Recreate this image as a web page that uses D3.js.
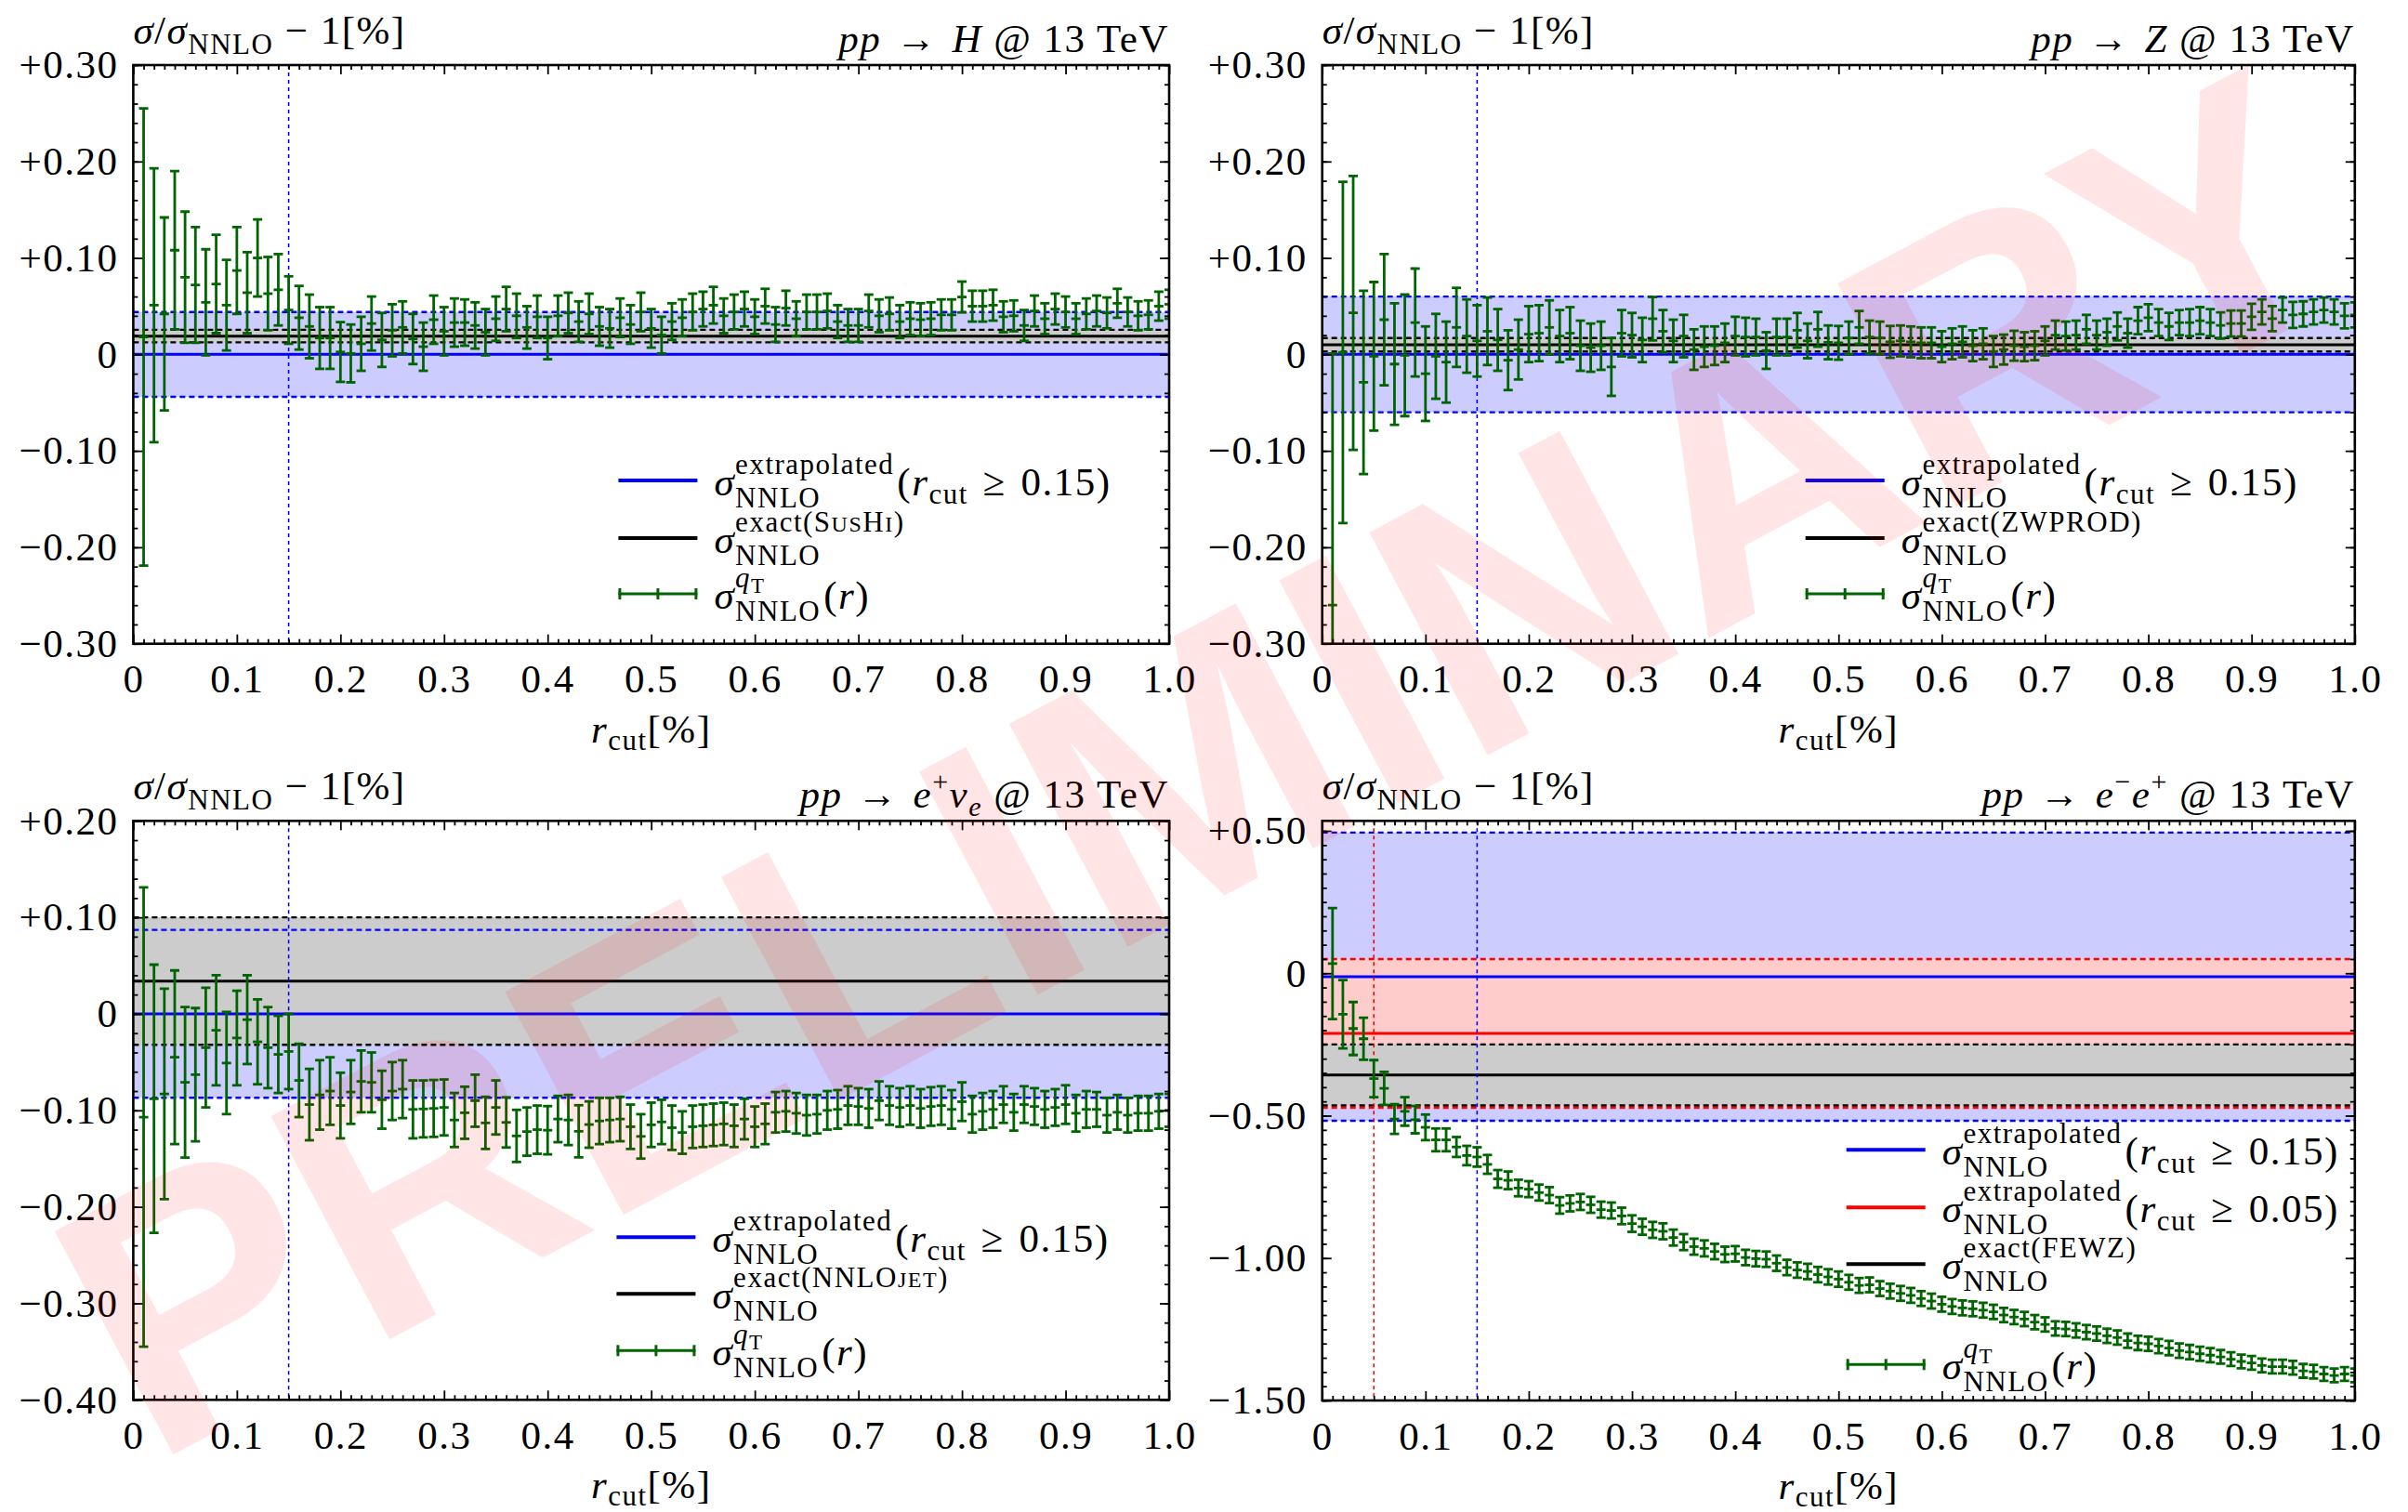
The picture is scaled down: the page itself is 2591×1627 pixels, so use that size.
<!DOCTYPE html>
<html>
<head>
<meta charset="utf-8">
<script src="https://cdn.jsdelivr.net/npm/d3@7"></script>
<style>
body { margin: 0; background: #fff; }
svg text { font-family: "Liberation Serif", "DejaVu Serif", serif; white-space: pre; letter-spacing: 1.5px; }
svg text.watermark { font-family: "Liberation Sans", Arial, sans-serif; letter-spacing: 0; }
</style>
</head>
<body>
<svg id="chart" width="2591" height="1627"></svg>
<script>
// r_cut grid (percent)
var rValues = [0.01,0.02,0.03,0.04,0.05,0.06,0.07,0.08,0.09,0.10,
  0.11,0.12,0.13,0.14,0.15,0.16,0.17,0.18,0.19,0.20,
  0.21,0.22,0.23,0.24,0.25,0.26,0.27,0.28,0.29,0.30,
  0.31,0.32,0.33,0.34,0.35,0.36,0.37,0.38,0.39,0.40,
  0.41,0.42,0.43,0.44,0.45,0.46,0.47,0.48,0.49,0.50,
  0.51,0.52,0.53,0.54,0.55,0.56,0.57,0.58,0.59,0.60,
  0.61,0.62,0.63,0.64,0.65,0.66,0.67,0.68,0.69,0.70,
  0.71,0.72,0.73,0.74,0.75,0.76,0.77,0.78,0.79,0.80,
  0.81,0.82,0.83,0.84,0.85,0.86,0.87,0.88,0.89,0.90,
  0.91,0.92,0.93,0.94,0.95,0.96,0.97,0.98,0.99,1.00];

// pp -> H
var hCenter = [0.018,0.051,0.042,0.108,0.080,0.072,0.054,0.073,0.051,0.087,
  0.064,0.100,0.063,0.067,0.046,0.038,0.029,0.017,0.017,0.0025,
  0.001,0.011,0.032,0.015,0.025,0.028,0.016,0.008,0.036,0.024,
  0.033,0.033,0.030,0.023,0.037,0.047,0.040,0.028,0.039,0.017,
  0.040,0.043,0.034,0.042,0.029,0.027,0.038,0.031,0.044,0.027,
  0.020,0.034,0.038,0.044,0.047,0.051,0.040,0.044,0.047,0.039,
  0.050,0.031,0.048,0.037,0.044,0.044,0.045,0.034,0.030,0.030,
  0.045,0.040,0.042,0.034,0.037,0.036,0.037,0.041,0.041,0.0595,
  0.050,0.050,0.051,0.039,0.040,0.030,0.045,0.037,0.047,0.044,
  0.037,0.042,0.045,0.043,0.053,0.044,0.040,0.041,0.050,0.052];
var hError = [0.237,0.142,0.100,0.082,0.068,0.060,0.055,0.051,0.047,0.045,
  0.042,0.040,0.038,0.037,0.035,0.033,0.033,0.032,0.032,0.031,
  0.030,0.028,0.028,0.028,0.027,0.027,0.026,0.025,0.025,0.025,
  0.025,0.024,0.024,0.024,0.023,0.023,0.023,0.022,0.022,0.022,
  0.021,0.021,0.021,0.021,0.020,0.020,0.020,0.020,0.020,0.020,
  0.019,0.019,0.019,0.019,0.018,0.019,0.018,0.018,0.018,0.018,
  0.018,0.018,0.018,0.018,0.018,0.018,0.018,0.017,0.017,0.017,
  0.017,0.017,0.017,0.017,0.017,0.017,0.017,0.016,0.016,0.016,
  0.016,0.016,0.016,0.016,0.016,0.016,0.016,0.016,0.016,0.016,
  0.016,0.016,0.016,0.016,0.015,0.015,0.015,0.015,0.015,0.015];
var hExtrapolated = [0, 0.044];   // [central, half width]
var hExact = [0.019, 0.0065];

// pp -> Z
var zCenter = [-0.260,0.002,0.043,-0.029,-0.002,0.036,-0.010,-0.001,0.033,-0.020,
  -0.002,-0.008,0.028,0.019,0.014,0.024,0.015,-0.006,0.005,0.021,
  0.022,0.028,0.019,0.022,0.009,0.007,0.009,-0.013,0.022,0.020,
  0.015,0.037,0.024,0.014,0.019,0.005,0.008,0.009,0.012,0.019,
  0.018,0.018,0.004,0.018,0.018,0.025,0.014,0.026,0.0125,0.012,
  0.017,0.028,0.018,0.017,0.013,0.014,0.013,0.012,0.012,0.008,
  0.011,0.013,0.009,0.011,0.003,0.005,0.009,0.008,0.009,0.014,
  0.020,0.019,0.020,0.026,0.020,0.023,0.029,0.022,0.035,0.038,
  0.033,0.029,0.033,0.033,0.035,0.033,0.030,0.032,0.032,0.039,
  0.044,0.037,0.046,0.041,0.042,0.044,0.046,0.044,0.040,0.041];
var zError = [0.261,0.177,0.142,0.095,0.077,0.068,0.063,0.063,0.056,0.049,
  0.044,0.042,0.041,0.038,0.037,0.035,0.032,0.031,0.031,0.029,
  0.029,0.028,0.027,0.027,0.026,0.025,0.025,0.030,0.024,0.023,
  0.023,0.0225,0.022,0.022,0.022,0.021,0.021,0.020,0.020,0.020,
  0.020,0.019,0.019,0.019,0.019,0.018,0.018,0.018,0.0175,0.0175,
  0.017,0.017,0.017,0.017,0.0165,0.016,0.016,0.016,0.016,0.016,
  0.016,0.016,0.016,0.016,0.016,0.0155,0.0155,0.015,0.015,0.015,
  0.015,0.015,0.015,0.015,0.015,0.014,0.0145,0.015,0.014,0.014,
  0.014,0.014,0.013,0.014,0.014,0.014,0.0135,0.0135,0.0135,0.0135,
  0.013,0.013,0.013,0.0135,0.013,0.013,0.013,0.013,0.013,0.013];
var zExtrapolated = [0, 0.060];
var zExact = [0.010, 0.007];

// pp -> e+ nu_e
var wCenter = [-0.107,-0.088,-0.083,-0.045,-0.071,-0.063,-0.035,-0.017,-0.051,-0.025,
  -0.006,-0.029,-0.035,-0.042,-0.039,-0.069,-0.094,-0.084,-0.080,-0.095,
  -0.081,-0.070,-0.071,-0.089,-0.080,-0.078,-0.099,-0.0985,-0.098,-0.097,
  -0.110,-0.1025,-0.090,-0.113,-0.097,-0.1125,-0.1265,-0.122,-0.120,-0.1206,
  -0.109,-0.110,-0.1217,-0.1147,-0.111,-0.110,-0.109,-0.117,-0.127,-0.115,
  -0.112,-0.118,-0.123,-0.117,-0.116,-0.115,-0.114,-0.116,-0.109,-0.117,
  -0.114,-0.102,-0.101,-0.103,-0.105,-0.104,-0.100,-0.099,-0.095,-0.096,
  -0.098,-0.090,-0.095,-0.097,-0.095,-0.098,-0.096,-0.095,-0.099,-0.091,
  -0.104,-0.101,-0.099,-0.094,-0.102,-0.094,-0.096,-0.099,-0.097,-0.094,
  -0.103,-0.099,-0.099,-0.105,-0.102,-0.105,-0.103,-0.103,-0.101,-0.100];
var wError = [0.238,0.139,0.109,0.090,0.078,0.069,0.062,0.057,0.053,0.049,
  0.046,0.044,0.042,0.040,0.039,0.038,0.037,0.036,0.035,0.034,
  0.033,0.032,0.031,0.030,0.030,0.030,0.030,0.0295,0.0295,0.029,
  0.028,0.027,0.027,0.027,0.028,0.026,0.027,0.025,0.025,0.025,
  0.024,0.026,0.027,0.024,0.024,0.023,0.023,0.023,0.023,0.023,
  0.023,0.023,0.022,0.022,0.022,0.022,0.022,0.022,0.021,0.021,
  0.021,0.021,0.021,0.021,0.021,0.020,0.020,0.020,0.020,0.019,
  0.020,0.020,0.020,0.020,0.020,0.020,0.020,0.020,0.020,0.020,
  0.019,0.019,0.019,0.019,0.019,0.019,0.019,0.019,0.019,0.020,
  0.019,0.019,0.018,0.018,0.018,0.018,0.018,0.018,0.018,0.017];
var wExtrapolated = [0, 0.087];
var wExact = [0.034, 0.066];

// pp -> e- e+
var eeCenter = [0.034,-0.144,-0.194,-0.230,-0.370,-0.404,-0.512,-0.485,-0.514,-0.541,
  -0.585,-0.585,-0.610,-0.640,-0.645,-0.671,-0.722,-0.727,-0.754,-0.758,
  -0.770,-0.779,-0.815,-0.808,-0.803,-0.813,-0.830,-0.833,-0.852,-0.879,
  -0.890,-0.901,-0.906,-0.928,-0.944,-0.960,-0.966,-0.977,-0.987,-0.985,
  -0.998,-1.002,-1.004,-1.018,-1.033,-1.042,-1.047,-1.058,-1.066,-1.074,
  -1.085,-1.096,-1.094,-1.107,-1.116,-1.124,-1.131,-1.142,-1.151,-1.162,
  -1.170,-1.175,-1.178,-1.183,-1.189,-1.200,-1.207,-1.214,-1.225,-1.233,
  -1.247,-1.249,-1.254,-1.260,-1.265,-1.273,-1.279,-1.290,-1.298,-1.301,
  -1.309,-1.316,-1.325,-1.330,-1.336,-1.341,-1.347,-1.355,-1.363,-1.368,
  -1.377,-1.381,-1.381,-1.385,-1.396,-1.399,-1.407,-1.412,-1.407,-1.412];
var eeError = [0.195,0.120,0.093,0.074,0.065,0.058,0.052,0.050,0.048,0.045,
  0.040,0.040,0.035,0.034,0.034,0.033,0.031,0.031,0.029,0.028,
  0.028,0.028,0.029,0.028,0.028,0.028,0.028,0.028,0.029,0.029,
  0.028,0.028,0.028,0.028,0.028,0.028,0.028,0.027,0.027,0.027,
  0.027,0.027,0.027,0.027,0.027,0.027,0.027,0.027,0.027,0.027,
  0.026,0.026,0.026,0.026,0.026,0.026,0.026,0.026,0.026,0.026,
  0.026,0.026,0.026,0.026,0.025,0.025,0.025,0.025,0.025,0.025,
  0.025,0.025,0.025,0.025,0.025,0.025,0.025,0.025,0.025,0.025,
  0.025,0.025,0.025,0.025,0.025,0.025,0.024,0.024,0.024,0.024,
  0.024,0.024,0.024,0.024,0.024,0.024,0.024,0.024,0.024,0.024];
var eeExtrapolated15 = [-0.012, 0.506];
var eeExtrapolated05 = [-0.211, 0.261];
var eeExact = [-0.357, 0.107];

// axis ticks
var xTicks = [0,0.1,0.2,0.3,0.4,0.5,0.6,0.7,0.8,0.9,1.0];
var xTickLabels = ["0","0.1","0.2","0.3","0.4","0.5","0.6","0.7","0.8","0.9","1.0"];
var yTicks30 = [0.3,0.2,0.1,0,-0.1,-0.2,-0.3];
var yTickLabels30 = ["+0.30","+0.20","+0.10","0","\u22120.10","\u22120.20","\u22120.30"];
var yTicksW = [0.2,0.1,0,-0.1,-0.2,-0.3,-0.4];
var yTickLabelsW = ["+0.20","+0.10","0","\u22120.10","\u22120.20","\u22120.30","\u22120.40"];
var yTicksEE = [0.5,0,-0.5,-1.0,-1.5];
var yTickLabelsEE = ["+0.50","0","\u22120.50","\u22121.00","\u22121.50"];

var BLUE = "#0000ff", RED = "#ff0000", GREEN = "#006400";
var svg = d3.select("#chart");

// draws a run of text pieces; stack:"sup"/"sub" puts two pieces over each other
function rich(g, x, y, parts, anchor) {
    var grp = g.append("g");
    var cursor = 0, stackX = 0, stackW = 0;
    parts.forEach(function(p) {
        var t = grp.append("text").attr("y", p.dy || 0);
        var segs = Array.isArray(p.t) ? p.t : [[p.t, p.size || 43, p.it]];
        segs.forEach(function(s) {
            t.append("tspan").attr("font-size", s[1]).attr("font-style", s[2] ? "italic" : "normal")
                .attr("dy", s[3] || 0).text(s[0]);
        });
        var startX = p.stack === "sub" ? stackX : cursor;
        t.attr("x", startX + (p.dx || 0));
        var w = t.node().getComputedTextLength() + (p.dx || 0);
        if (p.stack === "sup") { stackX = cursor; stackW = w; }
        else if (p.stack === "sub") { cursor = stackX + Math.max(stackW, w); }
        else cursor += w;
    });
    var shift = anchor === "end" ? -cursor : (anchor === "middle" ? -cursor / 2 : 0);
    grp.attr("transform", "translate(" + (x + shift) + "," + y + ")");
}

function sigmaParts(sup, tail) {
    var parts = [{t: "\u03c3", it: 1}, {t: sup, size: 31, dy: -23, stack: "sup"}, {t: "NNLO", size: 31, dy: 13, stack: "sub"}];
    return parts.concat(tail || []);
}
var rcutTail = function(v) {
    return [{t: "(", dx: 3}, {t: "r", it: 1}, {t: "cut", size: 31, dy: 9}, {t: "\u2004\u2265\u2004" + v + ")"}];
};
var qtSup = [["q", 31, true], ["T", 23, false, 6]];
var rTail = [{t: "(", dx: 3}, {t: "r", it: 1}, {t: ")"}];

var panels = [
  { id: "h", center: hCenter, error: hError, yDomain: [-0.3, 0.3], yTicks: yTicks30, yLabels: yTickLabels30, yMinor: 0.02,
    bands: [{v: hExtrapolated, fill: "#ccccff", color: BLUE}, {v: hExact, fill: "#cccccc", color: "#000"}],
    cuts: [{r: 0.15, color: BLUE}],
    title: [{t: "pp", it: 1}, {t: "\u2004\u2192\u2004"}, {t: "H", it: 1}, {t: " @ 13 TeV"}],
    legend: [{color: BLUE, parts: sigmaParts("extrapolated", rcutTail("0.15"))},
             {color: "#000", parts: sigmaParts([["exact(S", 31], ["US", 24], ["H", 31], ["I", 24], [")", 31]])},
             {color: GREEN, bar: true, parts: sigmaParts(qtSup, rTail)}] },
  { id: "z", center: zCenter, error: zError, yDomain: [-0.3, 0.3], yTicks: yTicks30, yLabels: yTickLabels30, yMinor: 0.02,
    bands: [{v: zExtrapolated, fill: "#ccccff", color: BLUE}, {v: zExact, fill: "#cccccc", color: "#000"}],
    cuts: [{r: 0.15, color: BLUE}],
    title: [{t: "pp", it: 1}, {t: "\u2004\u2192\u2004"}, {t: "Z", it: 1}, {t: " @ 13 TeV"}],
    legend: [{color: BLUE, parts: sigmaParts("extrapolated", rcutTail("0.15"))},
             {color: "#000", parts: sigmaParts("exact(ZWPROD)")},
             {color: GREEN, bar: true, parts: sigmaParts(qtSup, rTail)}] },
  { id: "w", center: wCenter, error: wError, yDomain: [-0.4, 0.2], yTicks: yTicksW, yLabels: yTickLabelsW, yMinor: 0.02,
    bands: [{v: wExtrapolated, fill: "#ccccff", color: BLUE}, {v: wExact, fill: "#cccccc", color: "#000"}],
    cuts: [{r: 0.15, color: BLUE}],
    title: [{t: "pp", it: 1}, {t: "\u2004\u2192\u2004"}, {t: "e", it: 1}, {t: "+", size: 30, dy: -18}, {t: "\u03bd", it: 1}, {t: "e", it: 1, size: 30, dy: 9}, {t: " @ 13 TeV"}],
    legend: [{color: BLUE, parts: sigmaParts("extrapolated", rcutTail("0.15"))},
             {color: "#000", parts: sigmaParts([["exact(NNLO", 31], ["JET", 24], [")", 31]])},
             {color: GREEN, bar: true, parts: sigmaParts(qtSup, rTail)}] },
  { id: "ee", center: eeCenter, error: eeError, yDomain: [-1.5, 0.535], yTicks: yTicksEE, yLabels: yTickLabelsEE, yMinor: 0.05,
    bands: [{v: eeExtrapolated15, fill: "#ccccff", color: BLUE}, {v: eeExtrapolated05, fill: "#ffcccc", color: RED},
            {v: eeExact, fill: "#cccccc", color: "#000"}],
    cuts: [{r: 0.05, color: RED}, {r: 0.15, color: BLUE}],
    title: [{t: "pp", it: 1}, {t: "\u2004\u2192\u2004"}, {t: "e", it: 1}, {t: "\u2212", size: 30, dy: -18}, {t: "e", it: 1}, {t: "+", size: 30, dy: -18}, {t: " @ 13 TeV"}],
    legend: [{color: BLUE, parts: sigmaParts("extrapolated", rcutTail("0.15"))},
             {color: RED, parts: sigmaParts("extrapolated", rcutTail("0.05"))},
             {color: "#000", parts: sigmaParts("exact(FEWZ)")},
             {color: GREEN, bar: true, parts: sigmaParts(qtSup, rTail)}] }
];

// frame boxes and legend placement (pixels)
var frames = [
  {left: 143.4, right: 1258, top: 70, bottom: 692.7, legX: 522, legY: [447, 509, 569]},
  {left: 1422.7, right: 2533.8, top: 70, bottom: 692.7, legX: 520, legY: [447, 509, 569]},
  {left: 143.4, right: 1258, top: 883.3, bottom: 1506.3, legX: 520, legY: [448, 509, 570]},
  {left: 1422.7, right: 2533.8, top: 883.3, bottom: 1507, legX: 564, legY: [354, 416, 477, 585]}
];

function drawPanel(p, f) {
    var x = d3.scaleLinear().domain([0, 1]).range([f.left, f.right]);
    var y = d3.scaleLinear().domain(p.yDomain).range([f.bottom, f.top]);
    var g = svg.append("g");
    var clipId = "clip-" + p.id;
    svg.append("clipPath").attr("id", clipId).append("rect")
        .attr("x", f.left).attr("y", f.top).attr("width", f.right - f.left).attr("height", f.bottom - f.top);
    var inner = g.append("g").attr("clip-path", "url(#" + clipId + ")");

    // bands
    p.bands.forEach(function(b) {
        inner.append("rect").attr("x", f.left).attr("width", f.right - f.left)
            .attr("y", y(b.v[0] + b.v[1])).attr("height", y(b.v[0] - b.v[1]) - y(b.v[0] + b.v[1]))
            .attr("fill", b.fill);
    });
    p.bands.forEach(function(b) {
        [b.v[0] + b.v[1], b.v[0] - b.v[1]].forEach(function(v) {
            inner.append("line").attr("x1", f.left).attr("x2", f.right).attr("y1", y(v)).attr("y2", y(v))
                .attr("stroke", b.color).attr("stroke-width", 2.4).attr("stroke-dasharray", "6,4");
        });
    });
    p.bands.forEach(function(b) {
        inner.append("line").attr("x1", f.left).attr("x2", f.right).attr("y1", y(b.v[0])).attr("y2", y(b.v[0]))
            .attr("stroke", b.color).attr("stroke-width", 3);
    });
    p.cuts.forEach(function(c) {
        inner.append("line").attr("x1", x(c.r)).attr("x2", x(c.r)).attr("y1", f.top).attr("y2", f.bottom)
            .attr("stroke", c.color).attr("stroke-width", 1.6).attr("stroke-dasharray", "4,4");
    });

    // error bars
    var bars = inner.append("g").attr("stroke", GREEN).attr("stroke-width", 2.8);
    rValues.forEach(function(r, i) {
        var cx = x(r), c = p.center[i], e = p.error[i];
        bars.append("line").attr("x1", cx).attr("x2", cx).attr("y1", y(c + e)).attr("y2", y(c - e));
        [c + e, c, c - e].forEach(function(v) {
            bars.append("line").attr("x1", cx - 5).attr("x2", cx + 5).attr("y1", y(v)).attr("y2", y(v));
        });
    });

    // frame
    g.append("rect").attr("x", f.left).attr("y", f.top).attr("width", f.right - f.left).attr("height", f.bottom - f.top)
        .attr("fill", "none").attr("stroke", "#000").attr("stroke-width", 2.6);

    // ticks
    var xMinor = d3.range(0, 1.0001, 0.01).filter(function(v) { return Math.abs(v * 10 - Math.round(v * 10)) > 1e-6; });
    var yMinor = d3.range(p.yDomain[0], p.yDomain[1] + 1e-9, p.yMinor);
    function axis(gen, values, size, fmt, pad) {
        return gen.tickValues(values).tickSize(-size).tickPadding(pad || 0).tickFormat(fmt || "");
    }
    var axes = [
        [d3.axisBottom(x), "translate(0," + f.bottom + ")", xTicks, 10, function(d, i) { return xTickLabels[i]; }, 22],
        [d3.axisBottom(x), "translate(0," + f.bottom + ")", xMinor, 5],
        [d3.axisTop(x), "translate(0," + f.top + ")", xTicks, 10],
        [d3.axisTop(x), "translate(0," + f.top + ")", xMinor, 5],
        [d3.axisLeft(y), "translate(" + f.left + ",0)", p.yTicks, 10, function(d, i) { return p.yLabels[i]; }, 16],
        [d3.axisLeft(y), "translate(" + f.left + ",0)", yMinor, 5],
        [d3.axisRight(y), "translate(" + f.right + ",0)", p.yTicks, 10],
        [d3.axisRight(y), "translate(" + f.right + ",0)", yMinor, 5]
    ];
    axes.forEach(function(a) {
        var ag = g.append("g").attr("transform", a[1]).call(axis(a[0], a[2], a[3], a[4], a[5]));
        ag.select(".domain").remove();
        ag.selectAll("line").attr("stroke", "#000").attr("stroke-width", 1.8);
        ag.selectAll("text").attr("font-size", 43).attr("fill", "#000");
    });

    // titles
    rich(g, f.left, f.top - 23, [{t: "\u03c3", it: 1}, {t: "/"}, {t: "\u03c3", it: 1}, {t: "NNLO", size: 31, dy: 11}, {t: " \u2212 1[%]"}], "start");
    rich(g, f.right, f.top - 14, p.title, "end");
    rich(g, (f.left + f.right) / 2, f.bottom + 106, [{t: "r", it: 1}, {t: "cut", size: 31, dy: 8}, {t: "[%]"}], "middle");

    // legend
    p.legend.forEach(function(item, i) {
        var ly = f.top + f.legY[i], lx = f.left + f.legX;
        g.append("line").attr("x1", lx).attr("x2", lx + 85).attr("y1", ly).attr("y2", ly)
            .attr("stroke", item.color).attr("stroke-width", item.bar ? 3 : 4);
        if (item.bar) {
            [lx + 1.5, lx + 42.5, lx + 83.5].forEach(function(vx) {
                g.append("line").attr("x1", vx).attr("x2", vx).attr("y1", ly - 6).attr("y2", ly + 6)
                    .attr("stroke", item.color).attr("stroke-width", 3);
            });
        }
        rich(g, lx + 103, ly + 16, item.parts, "start");
    });
}

panels.forEach(function(p, i) { drawPanel(p, frames[i]); });

// watermark
svg.append("text")
    .attr("class", "watermark")
    .attr("transform", "translate(1358,942) rotate(-28)")
    .attr("text-anchor", "middle")
    .attr("font-weight", "bold")
    .attr("font-size", 395)
    .attr("fill", "rgba(255,0,0,0.1)")
    .text("PRELIMINARY");
</script>
</body>
</html>
